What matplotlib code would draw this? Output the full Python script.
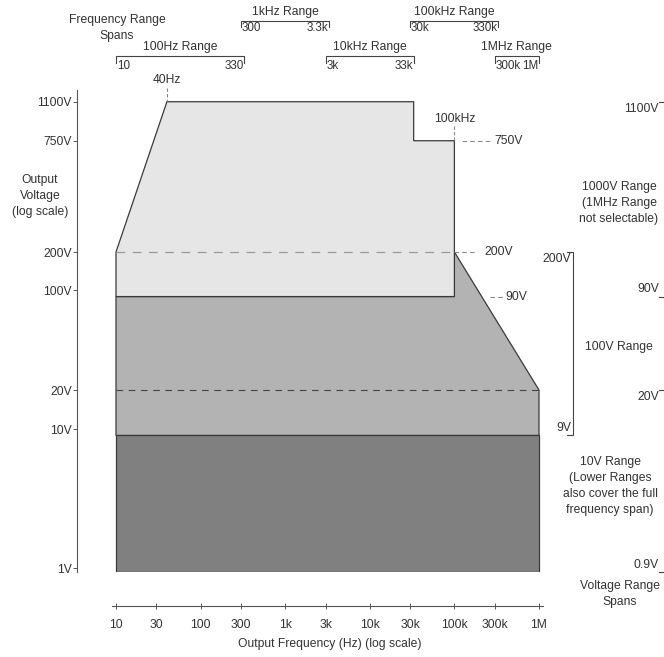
import numpy as np
import matplotlib
matplotlib.use("Agg")
import matplotlib.pyplot as plt
from matplotlib.patches import Polygon
from matplotlib.ticker import NullLocator
from matplotlib.transforms import blended_transform_factory

plt.rcParams["font.family"] = ["Liberation Sans", "DejaVu Sans"]
plt.rcParams["font.size"] = 8.7

TXT = "#333333"
EDGE = "#3a3a3a"
DASH = "#8a8a8a"
LIGHT = "#e6e6e6"
MID = "#b3b3b3"
DARK = "#808080"

# ── operating envelope (frequency Hz, voltage V) ────────────────────────────
HIGH_F = [10, 10, 40, 33e3, 33e3, 100e3, 100e3]
HIGH_V = [90, 200, 1100, 1100, 750, 750, 90]
MIDR_F = [10, 10, 100e3, 100e3, 1e6, 1e6]
MIDR_V = [9, 90, 90, 200, 20, 9]
LOW_F = [10, 10, 1e6, 1e6]
LOW_V = [0.9, 9, 9, 0.9]

# axis ticks
F_TICKS = [10, 30, 100, 300, 1e3, 3e3, 10e3, 30e3, 100e3, 300e3, 1e6]
F_LABELS = ["10", "30", "100", "300", "1k", "3k", "10k", "30k", "100k", "300k", "1M"]
V_TICKS = [1, 10, 20, 100, 200, 750, 1100]
V_LABELS = ["1V", "10V", "20V", "100V", "200V", "750V", "1100V"]

# frequency range spans (drawn above the plot, two staggered rows)
FR_NAMES = ["100Hz Range", "1kHz Range", "10kHz Range", "100kHz Range", "1MHz Range"]
FR_LO = [10, 300, 3e3, 30e3, 300e3]
FR_HI = [330, 3.3e3, 33e3, 330e3, 1e6]
FR_LO_LAB = ["10", "300", "3k", "30k", "300k"]
FR_HI_LAB = ["330", "3.3k", "33k", "330k", "1M"]
FR_ROW = [0, 1, 0, 1, 0]

# voltage range spans (drawn right of the plot)
VR_HI = [1100, 200, 20]
VR_LO = [90, 9, 0.9]
VR_HI_LAB = ["1100V", "200V", "20V"]
VR_LO_LAB = ["90V", "9V", "0.9V"]

W, H = 664, 657
fig = plt.figure(figsize=(W / 100, H / 100), dpi=100)


def fx(px):
    return px / W


def fy(py):
    return 1 - py / H


ax = fig.add_axes([fx(77.3), fy(572), fx(543) - fx(77.3), fy(90) - fy(572)])

# voltage axis: log-like, hand-spaced between the labelled levels
KNOT_V = np.log10([0.01, 0.9, 1, 10, 20, 100, 200, 750, 1100, 1e5])
KNOT_H = np.array([-271.6, 0, 3.7, 143, 182, 282, 320, 431.3, 470.3, 930.6])


def v_fwd(v):
    v = np.clip(np.asarray(v, dtype=float), 1e-12, None)
    return np.interp(np.log10(v), KNOT_V, KNOT_H)


def v_inv(h):
    return 10 ** np.interp(np.asarray(h, dtype=float), KNOT_H, KNOT_V)


ax.set_xscale("log")
ax.set_yscale("function", functions=(v_fwd, v_inv))
ax.set_xlim(3.488, 1.115e6)
ax.set_ylim(0.9, 1234)

# regions
for fs, vs, col in [(LOW_F, LOW_V, DARK), (MIDR_F, MIDR_V, MID), (HIGH_F, HIGH_V, LIGHT)]:
    ax.add_patch(Polygon(np.column_stack([fs, vs]), closed=True, facecolor=col,
                         edgecolor=EDGE, lw=0.9, zorder=2))

ax.plot([10, 100e3], [200, 200], color="#999999", lw=0.9, dashes=(7, 6), zorder=3)
ax.plot([10, 1e6], [20, 20], color="#444444", lw=0.8, dashes=(6, 5), zorder=3)

# axes styling
for s in ["top", "right"]:
    ax.spines[s].set_visible(False)
ax.spines["left"].set_color("#555555")
ax.spines["left"].set_linewidth(0.8)
ax.spines["bottom"].set_color("#555555")
ax.spines["bottom"].set_linewidth(0.8)
ax.spines["bottom"].set_position(("outward", 24.5))
ax.spines["bottom"].set_bounds(8.97, 1.115e6)

ax.set_xticks(F_TICKS, F_LABELS)
ax.set_yticks(V_TICKS, V_LABELS)
ax.xaxis.set_minor_locator(NullLocator())
ax.yaxis.set_minor_locator(NullLocator())
ax.tick_params(axis="x", direction="inout", length=4, width=0.7, colors="#555555",
               labelcolor=TXT, pad=7.5)
ax.tick_params(axis="y", direction="out", length=3, width=0.7, colors="#555555",
               labelcolor=TXT, pad=1)
ax.set_facecolor("none")


def shift_f(f, v, dx):
    # frequency that sits dx pixels to the right of (f, v)
    x, y = ax.transData.transform((f, v))
    return ax.transData.inverted().transform((x + dx, y))[0]


# envelope call-outs
xfig = blended_transform_factory(ax.transData, fig.transFigure)
ax.plot([40, 40], [fy(88), fy(101)], transform=xfig, color=DASH, lw=0.8,
        dashes=(3, 2), clip_on=False)
ax.text(40, fy(80), "40Hz", transform=xfig, ha="center", va="center", color=TXT)
ax.plot([100e3, 100e3], [fy(126), fy(140)], transform=xfig, color=DASH, lw=0.8,
        dashes=(3, 2), clip_on=False)
ax.text(100e3, fy(119), "100kHz", transform=xfig, ha="center", va="center", color=TXT)

for v, d0, d1, dl, lab in [(750, 8, 38, 40, "750V"), (200, 0, 23, 30, "200V"),
                           (90, 36, 49, 51, "90V")]:
    ax.plot([shift_f(100e3, v, d0), shift_f(100e3, v, d1)], [v, v], color=DASH,
            lw=0.8, dashes=(4, 3), clip_on=False)
    ax.text(shift_f(100e3, v, dl), v, lab, ha="left", va="center", color=TXT)

# frequency range brackets
for name, lo, hi, llab, hlab, row in zip(FR_NAMES, FR_LO, FR_HI, FR_LO_LAB, FR_HI_LAB, FR_ROW):
    yl = fy(55.7) if row == 0 else fy(21.3)
    tl = 7 / H if row == 0 else 5.5 / H
    ylab = fy(66) if row == 0 else fy(28.3)
    ytit = fy(46.7) if row == 0 else fy(12.3)
    ax.plot([lo, lo, hi, hi], [yl - tl, yl, yl, yl - tl], transform=xfig,
            color="#444444", lw=0.8, clip_on=False)
    ax.text(np.sqrt(lo * hi), ytit, name, transform=xfig, ha="center", va="center", color=TXT)
    ax.annotate(llab, xy=(lo, ylab), xycoords=xfig, xytext=(0.5, 0), fontsize=8.4,
                textcoords="offset points", ha="left", va="center", color=TXT)
    ax.annotate(hlab, xy=(hi, ylab), xycoords=xfig, xytext=(-0.3, 0), fontsize=8.4,
                textcoords="offset points", ha="right", va="center", color=TXT)

# voltage range brackets
yfig = blended_transform_factory(fig.transFigure, ax.transData)
for i, (hi, lo, hlab, llab) in enumerate(zip(VR_HI, VR_LO, VR_HI_LAB, VR_LO_LAB)):
    if i == 1:
        xr, xt = fx(573), fx(567)
        ax.plot([xt, xr, xr, xt], [hi, hi, lo, lo], transform=yfig, color="#444444",
                lw=0.8, clip_on=False)
        xtxt = fx(571)
    else:
        xr, xt = fx(666), fx(658.5)
        ax.plot([xt, xr], [hi, hi], transform=yfig, color="#444444", lw=0.8, clip_on=False)
        ax.plot([xt, xr], [lo, lo], transform=yfig, color="#444444", lw=0.8, clip_on=False)
        xtxt = fx(659)
    ax.annotate(hlab, xy=(xtxt, hi), xycoords=yfig, xytext=(0, -1),
                textcoords="offset points", ha="right", va="top", color=TXT)
    ax.annotate(llab, xy=(xtxt, lo), xycoords=yfig, xytext=(0, 1),
                textcoords="offset points", ha="right", va="bottom", color=TXT)

# free-standing captions
caps = [
    (619, 203, "1000V Range\n(1MHz Range\nnot selectable)"),
    (619, 347, "100V Range"),
    (610, 486, "10V Range\n(Lower Ranges\nalso cover the full\nfrequency span)"),
    (620, 594, "Voltage Range\nSpans"),
    (40, 196, "Output\nVoltage\n(log scale)"),
    (117, 28, "Frequency Range\nSpans"),
    (330, 644, "Output Frequency (Hz) (log scale)"),
]
for px, py, s in caps:
    fig.text(fx(px), fy(py), s, ha="center", va="center", color=TXT,
             linespacing=1.42, multialignment="center")

fig.savefig("out.png", dpi=100)
